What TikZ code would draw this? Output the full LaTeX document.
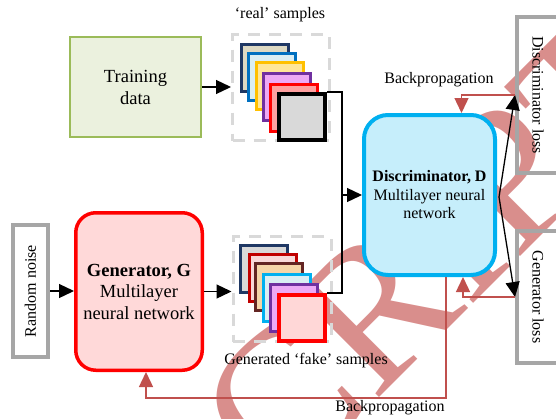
\documentclass[tikz,border=0pt]{standalone}
\usepackage{fontspec}
\setmainfont{Liberation Serif}
\usetikzlibrary{arrows.meta,calc}

\definecolor{trainfill}{HTML}{EBF1DE}
\definecolor{traindraw}{HTML}{9BBB59}
\definecolor{genfill}{HTML}{FFD9D9}
\definecolor{gendraw}{HTML}{FF0000}
\definecolor{discfill}{HTML}{C6EEFB}
\definecolor{discdraw}{HTML}{00B0F0}
\definecolor{lossdraw}{HTML}{A6A6A6}
\definecolor{dashgray}{HTML}{D9D9D9}
\definecolor{bpred}{HTML}{C0504D}
\definecolor{wmred}{RGB}{217,142,140}
% sample tile colours
\definecolor{navy}{HTML}{1F3864}
\definecolor{tan}{HTML}{DDD9C3}
\definecolor{blueb}{HTML}{0070C0}
\definecolor{cyanf}{HTML}{DAEEF3}
\definecolor{gold}{HTML}{FFC000}
\definecolor{goldf}{HTML}{FFE699}
\definecolor{violet}{HTML}{7030A0}
\definecolor{violetf}{HTML}{EDA9F5}
\definecolor{salmon}{HTML}{FFA0A0}
\definecolor{lgray}{HTML}{D9D9D9}
\definecolor{darkred}{HTML}{C00000}
\definecolor{pinkf}{HTML}{F9D9D9}
\definecolor{brown}{HTML}{632523}
\definecolor{peach}{HTML}{F5D5A8}
\definecolor{skyb}{HTML}{00B0F0}
\definecolor{pinkl}{HTML}{FFD7D7}

\tikzset{
  txt/.style={font=\fontsize{16}{18.5}\selectfont, align=center, inner sep=0pt},
  trainbox/.style={draw=traindraw, fill=trainfill, line width=2pt,
    minimum width=131pt, minimum height=100pt, inner sep=0pt,
    align=center, font=\fontsize{18.5}{22}\selectfont},
  genbox/.style={draw=gendraw, fill=genfill, line width=3.5pt, rounded corners=20pt,
    minimum width=126.5pt, minimum height=157.5pt, inner sep=0pt,
    align=center, font=\fontsize{18.5}{21.5}\selectfont},
  discbox/.style={draw=discdraw, fill=discfill, line width=4pt, rounded corners=24pt,
    minimum width=131pt, minimum height=160pt, inner sep=0pt,
    align=center, font=\fontsize{16}{18.5}\selectfont},
  lossbox/.style={draw=lossdraw, line width=4pt, inner sep=0pt,
    font=\fontsize{16}{18.5}\selectfont},
  dashbox/.style={draw=dashgray, line width=3pt, dash pattern=on 12pt off 9pt,
    inner sep=0pt},
  tile/.style={line width=3pt, minimum size=47pt, inner sep=0pt},
  conn/.style={line width=1.3pt, black},
  arr/.style={conn, -{Triangle[length=15pt,width=14pt]}},
  bp/.style={line width=1.4pt, bpred, -{Triangle[length=15pt,width=14pt]}},
  wm/.style={text=wmred, rotate=45, inner sep=0pt,
    font=\fontsize{200}{200}\selectfont}
}

\begin{document}
\begin{tikzpicture}[x=1pt,y=-1pt]
\useasboundingbox (0,0) rectangle (556,418);

% watermark, beneath everything
\node[wm] (mark) at (395,290) {SCRIPT};

% main blocks
\node[trainbox] (train) at (135.5,87) {Training\\data};
\node[genbox] (gen) at (139,291.5) {\textbf{Generator, G}\\Multilayer\\neural network};
\node[discbox] (disc) at (429.5,195) {\textbf{Discriminator, D}\\Multilayer neural\\network};

% input and loss boxes
\node[lossbox, fill=white, minimum width=35pt, minimum height=132pt] (noise) at (30.5,291) {};
\node[txt, rotate=90] (noiselbl) at (noise.center) {Random noise};
\node[lossbox, minimum width=42pt, minimum height=156pt] (dloss) at (538,95) {};
\node[txt, rotate=-90] (dlosslbl) at (dloss.center) {Discriminator loss};
\node[lossbox, minimum width=42pt, minimum height=132pt] (gloss) at (538,297) {};
\node[txt, rotate=-90] (glosslbl) at (gloss.center) {Generator loss};

% real samples
\node[dashbox, minimum width=97pt, minimum height=106pt] (realbox) at (281,87.5) {};
\node[tile, draw=navy, fill=tan] (r1) at (265,68) {};
\node[tile, draw=blueb, fill=cyanf] (r2) at (272,77) {};
\node[tile, draw=gold, fill=goldf] (r3) at (280,86) {};
\node[tile, draw=violet, fill=violetf] (r4) at (287,97) {};
\node[tile, draw=gendraw, fill=salmon] (r5) at (294,108) {};
\node[tile, draw=black, fill=lgray, line width=4pt, minimum size=46pt] (r6) at (302,117) {};
\node[txt] (reallbl) at (280,15) {‘real’ samples};

% generated samples
\node[dashbox, minimum width=98pt, minimum height=105pt] (fakebox) at (282,289) {};
\node[tile, draw=navy, fill=lgray] (f1) at (264,269) {};
\node[tile, draw=darkred, fill=pinkf] (f2) at (273,278) {};
\node[tile, draw=brown, fill=peach] (f3) at (279,287) {};
\node[tile, draw=skyb, fill=cyanf] (f4) at (287,298) {};
\node[tile, draw=violet, fill=violetf] (f5) at (294,308) {};
\node[tile, draw=gendraw, fill=pinkl, line width=4pt, minimum size=46pt] (f6) at (302,318) {};
\node[txt] (fakelbl) at (306,361) {Generated ‘fake’ samples};

% forward connections
\draw[arr] (train.east) -- (train.east -| realbox.west);
\draw[arr] (noise.east) -- (noise.east -| gen.west);
\draw[arr] (gen.east) -- (gen.east -| fakebox.west);
\coordinate (join) at ($(disc.west)+(-20,0)$);
\draw[conn] (r6.north east) -| (join);
\draw[conn] (f6.north east) -| (join);
\draw[arr] (join) -- (disc.west);
\coordinate (dout) at ($(disc.east)+(2,2)$);
\draw[arr] (dout) -- (dloss.west);
\draw[arr] (dout) -- (gloss.west);

% backpropagation paths
\draw[bp] (dloss.west) -| ([xshift=32pt]disc.north);
\draw[bp] (gloss.west) -| ([xshift=33.5pt]disc.south);
\draw[bp] ([xshift=16.5pt]disc.south) -- ++(0,121) -| ([xshift=7pt]gen.south);
\node[txt] (bptop) at (439,80) {Backpropagation};
\node[txt] (bpbot) at (390,408) {Backpropagation};
\end{tikzpicture}
\end{document}
